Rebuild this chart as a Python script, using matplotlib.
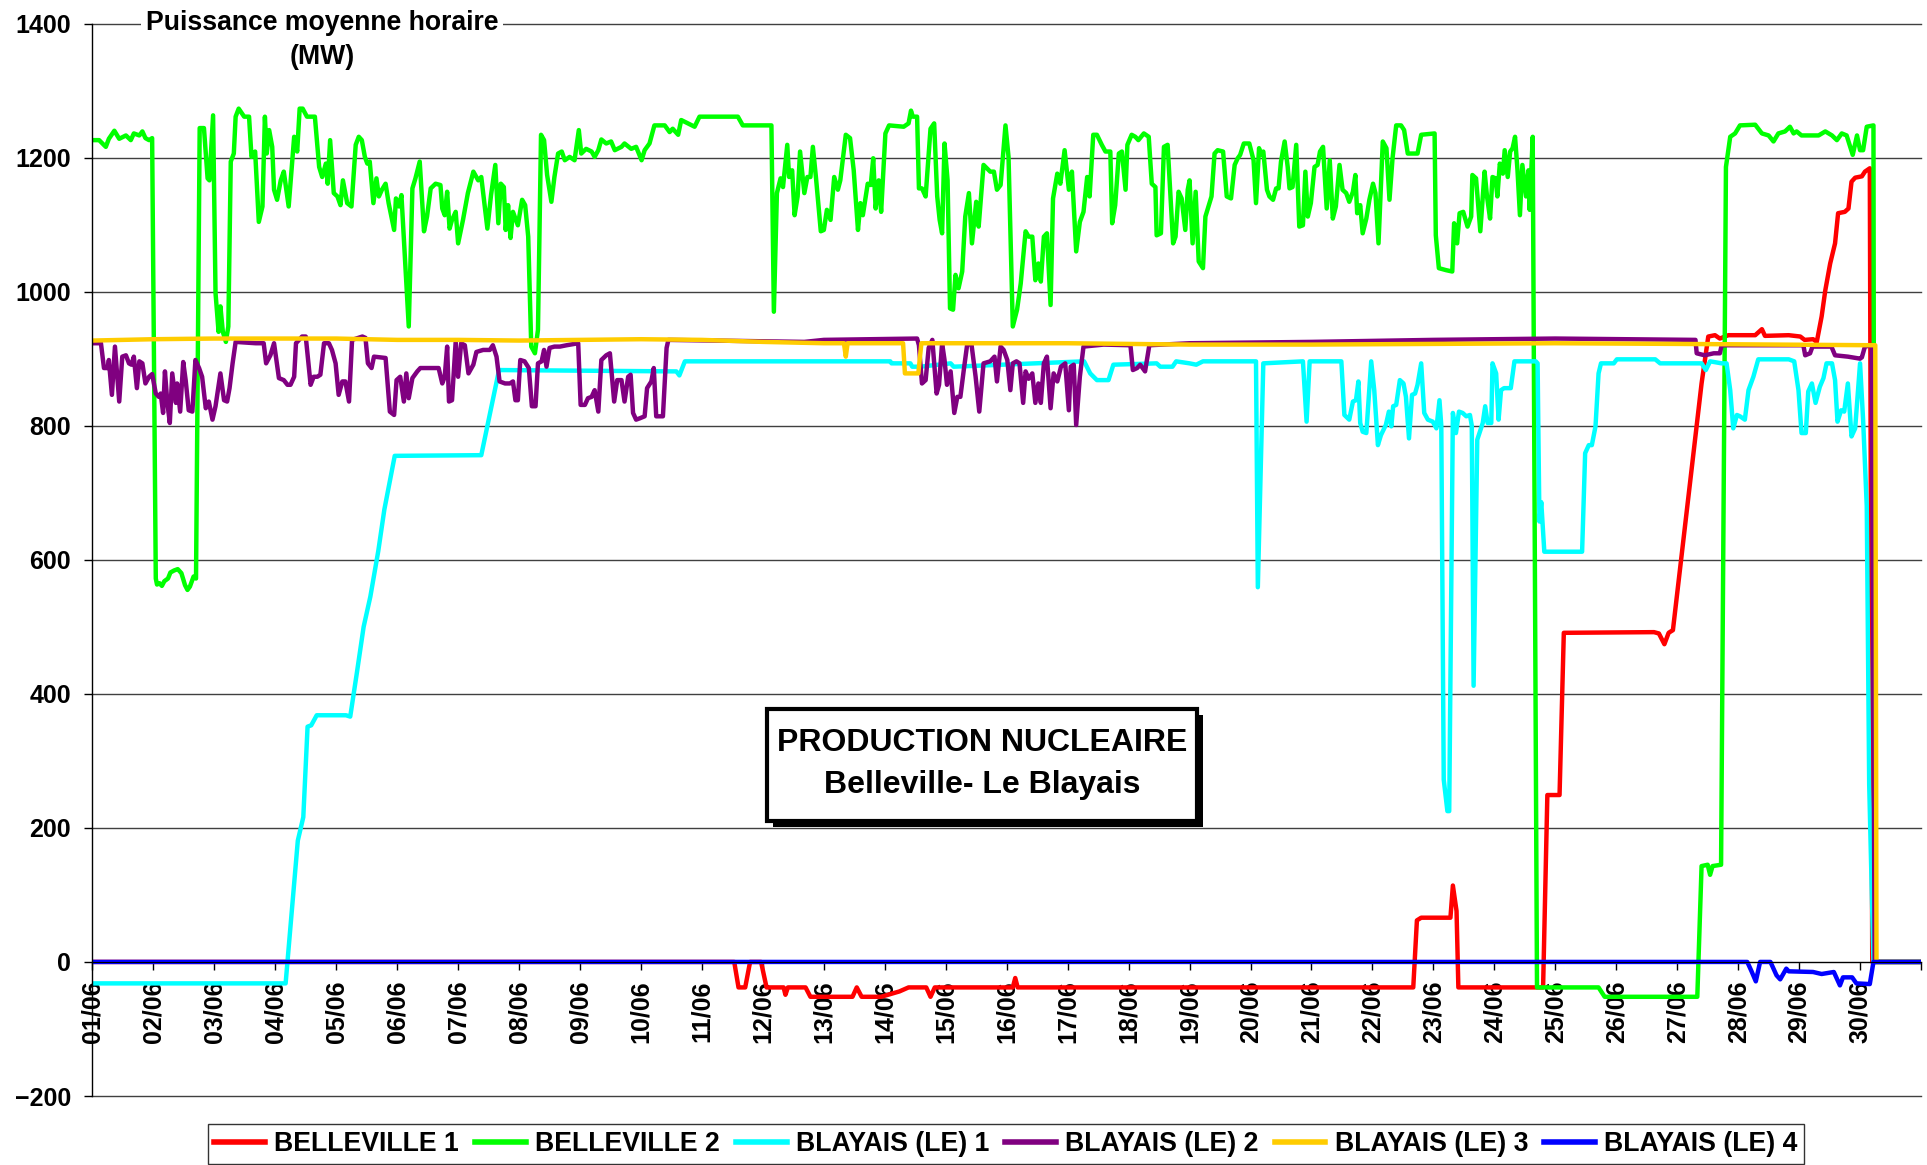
import matplotlib
matplotlib.use('Agg')
import matplotlib.pyplot as plt
from matplotlib.patches import Rectangle

plt.rcParams['font.family'] = ['Liberation Sans', 'DejaVu Sans']
plt.rcParams['font.weight'] = 'bold'

# jours (0 = 01/06 00h) et puissance moyenne horaire (MW)
day_labels = ['%02d/06' % (d + 1) for d in range(30)]

bel1_t = [0, 10.53, 10.60, 10.71, 10.79, 10.97, 11.06, 11.34, 11.37, 11.41, 11.70, 11.78,
          12.47, 12.54, 12.62, 12.94, 13.09, 13.24, 13.39, 13.68, 13.75, 13.82, 15.10, 15.14,
          15.18, 21.67, 21.73, 21.80, 22.28, 22.32, 22.38, 22.41, 23.80, 23.87, 24.07, 24.14,
          25.62, 25.70, 25.79, 25.86, 25.93, 26.16, 26.40, 26.51, 26.62, 26.70, 26.84, 27.28,
          27.39, 27.44, 27.83, 28.02, 28.09, 28.23, 28.29, 28.37, 28.43, 28.51, 28.59, 28.64,
          28.75, 28.81, 28.86, 28.92, 29.03, 29.08, 29.16, 29.20, 30]
bel1_v = [0, 0, -38, -38, 0, 0, -38, -38, -49, -38, -38, -52,
          -52, -38, -52, -52, -48, -44, -38, -38, -52, -38, -38, -24,
          -38, -38, 62, 66, 66, 114, 76, -38, -38, 249, 249, 491,
          492, 490, 474, 491, 495, 675, 863, 933, 935, 930, 935, 935,
          944, 934, 935, 933, 928, 929, 925, 963, 1002, 1042, 1072, 1117,
          1119, 1124, 1164, 1170, 1172, 1179, 1184, 0, 0]

bel2_t = [0.00, 0.11, 0.22, 0.27, 0.36, 0.44, 0.55, 0.63, 0.68, 0.77, 0.82, 0.87, 0.93, 0.98,
          1.04, 1.06, 1.10, 1.14, 1.18, 1.24, 1.28, 1.34, 1.40, 1.46, 1.52, 1.56, 1.60, 1.66, 1.70,
          1.76, 1.83, 1.89, 1.92, 1.98, 2.02, 2.07, 2.10, 2.14, 2.19, 2.23, 2.27, 2.32, 2.35, 2.40,
          2.49, 2.57, 2.61, 2.67, 2.73, 2.79, 2.83, 2.86, 2.90, 2.95, 2.98, 3.03, 3.09, 3.14, 3.22,
          3.31, 3.36, 3.40, 3.45, 3.52, 3.65, 3.72, 3.77, 3.83, 3.86, 3.90, 3.96, 4.02, 4.07, 4.11,
          4.18, 4.25, 4.32, 4.37, 4.42, 4.47, 4.51, 4.55, 4.61, 4.66, 4.70, 4.75, 4.81, 4.86, 4.95,
          4.98, 5.03, 5.07, 5.19, 5.25, 5.30, 5.37, 5.44, 5.49, 5.55, 5.63, 5.71, 5.74, 5.78, 5.82,
          5.86, 5.90, 5.96,
          6.00, 6.08, 6.16, 6.25, 6.33, 6.38, 6.48, 6.54, 6.61, 6.66, 6.70, 6.75, 6.78, 6.82, 6.86,
          6.90, 6.98, 7.05, 7.10, 7.15, 7.20, 7.26, 7.31, 7.36, 7.41, 7.46, 7.53, 7.58, 7.64, 7.70,
          7.75, 7.83, 7.91, 7.98, 8.02, 8.10, 8.19, 8.24, 8.30, 8.35, 8.43, 8.51, 8.57, 8.68, 8.73,
          8.84, 8.92, 9.01, 9.06, 9.14, 9.22, 9.39, 9.47, 9.52, 9.61, 9.66, 9.77, 9.88, 9.96, 10.59,
          10.67, 11.14, 11.18, 11.23, 11.29, 11.33, 11.40, 11.43, 11.48, 11.52, 11.57, 11.61, 11.68,
          11.73, 11.78, 11.82, 11.87, 11.95,
          12.00, 12.05, 12.11, 12.17, 12.23, 12.27, 12.36, 12.43, 12.49, 12.56, 12.60, 12.64, 12.72,
          12.77, 12.81, 12.85, 12.90, 12.94, 13.01, 13.07, 13.31, 13.39, 13.43, 13.46, 13.53, 13.56,
          13.61, 13.67, 13.75, 13.81, 13.86, 13.90, 13.94, 13.98, 14.03, 14.07, 14.12, 14.16, 14.21,
          14.27, 14.32, 14.38, 14.43, 14.50, 14.54, 14.62, 14.73, 14.79, 14.84, 14.90, 14.98, 15.03,
          15.10, 15.17, 15.23, 15.31, 15.36, 15.42, 15.47, 15.52, 15.56, 15.61, 15.66, 15.72, 15.76,
          15.83, 15.88, 15.95, 16.02, 16.07, 16.14, 16.20, 16.26, 16.32, 16.36, 16.42, 16.48, 16.56,
          16.62, 16.70, 16.73, 16.78, 16.84, 16.89, 16.95, 16.98, 17.05, 17.11, 17.16, 17.25, 17.33,
          17.38, 17.44, 17.46, 17.53, 17.58, 17.64, 17.73, 17.77, 17.82, 17.87, 17.93, 17.97,
          18.00, 18.05, 18.10, 18.15, 18.22, 18.26, 18.36, 18.41, 18.46, 18.55, 18.61, 18.68, 18.74,
          18.79, 18.83, 18.89, 18.98, 19.05, 19.09, 19.14, 19.17, 19.21, 19.27, 19.31, 19.37, 19.42,
          19.46, 19.50, 19.56, 19.61, 19.64, 19.69, 19.75, 19.80, 19.86, 19.90, 19.94, 19.99, 20.05,
          20.10, 20.14, 20.19, 20.25, 20.30, 20.35, 20.40, 20.46, 20.51, 20.57, 20.62, 20.68, 20.72,
          20.75, 20.80, 20.84, 20.90, 20.95, 21.01, 21.05, 21.10, 21.17, 21.23, 21.28, 21.33, 21.39,
          21.47, 21.52, 21.58, 21.74, 21.80, 22.02, 22.04, 22.09, 22.21, 22.31, 22.34, 22.39, 22.43,
          22.49, 22.56, 22.62, 22.64, 22.70, 22.77, 22.84, 22.88, 22.93, 22.97, 23.02, 23.05, 23.09,
          23.14, 23.17, 23.22, 23.26, 23.30, 23.34, 23.38, 23.42, 23.46, 23.52, 23.56, 23.58, 23.63,
          23.70, 24.71, 24.81, 26.33, 26.40, 26.50, 26.54, 26.58, 26.72, 26.80, 26.87, 26.95, 27.03,
          27.28, 27.39, 27.50, 27.58, 27.66, 27.77, 27.85, 27.91, 27.96, 28.04, 28.32, 28.43, 28.54,
          28.62, 28.70, 28.78, 28.88, 28.95, 29.00, 29.05, 29.11, 29.22, 29.24, 30]
bel2_v = [1226, 1226, 1216, 1228, 1240, 1228, 1233, 1226, 1236, 1233, 1239, 1229, 1226, 1229,
          572, 563, 565, 561, 568, 572, 581, 584, 586, 580, 562, 555, 560, 575, 572,
          1244, 1244, 1169, 1166, 1263, 998, 940, 978, 940, 925, 948, 1194, 1206, 1261, 1273,
          1261, 1261, 1201, 1209, 1104, 1127, 1261, 1206, 1241, 1216, 1152, 1137, 1166, 1179, 1127,
          1231, 1209, 1273, 1273, 1261, 1261, 1186, 1171, 1191, 1161, 1226, 1147, 1142, 1129, 1166,
          1132, 1127, 1219, 1231, 1226, 1201, 1191, 1194, 1132, 1169, 1142, 1152, 1161, 1132, 1092,
          1139, 1127, 1144, 948, 1154, 1169, 1194, 1090, 1112, 1154, 1161, 1159, 1124, 1114, 1149,
          1094, 1107, 1119,
          1072, 1107, 1147, 1179, 1166, 1171, 1094, 1144, 1189, 1102, 1161, 1156, 1092, 1129, 1080,
          1119, 1099, 1137, 1129, 1082, 918, 908, 943, 1234, 1226, 1174, 1134, 1171, 1206, 1209,
          1196, 1201, 1196, 1241, 1206, 1213, 1209, 1201, 1211, 1227, 1221, 1224, 1211, 1216, 1221,
          1213, 1216, 1196, 1211, 1221, 1248, 1248, 1238, 1243, 1234, 1256, 1251, 1246, 1261, 1261,
          1248, 1248, 970, 1147, 1169, 1156, 1219, 1171, 1181, 1114, 1142, 1209, 1147,
          1171, 1171, 1216, 1171, 1090,
          1092, 1122, 1107, 1171, 1152, 1166, 1234, 1229, 1181, 1092, 1132, 1114, 1161,
          1159, 1199, 1124, 1166, 1119, 1236, 1248, 1246, 1251, 1270, 1261, 1261, 1154,
          1154, 1142, 1243, 1251, 1142, 1107, 1087, 1221, 1166, 975, 973, 1025, 1005,
          1030, 1112, 1147, 1072, 1134, 1097, 1189, 1179, 1179, 1152, 1159, 1248, 1201,
          948, 973, 1012, 1090, 1082, 1082, 1017, 1042, 1015, 1082, 1087, 980, 1139,
          1176, 1161, 1211, 1152, 1179, 1060, 1104, 1119, 1171, 1142, 1234, 1234, 1219,
          1209, 1209, 1102, 1129, 1206, 1209, 1152, 1219, 1234, 1231, 1226, 1236, 1231,
          1161, 1156, 1084, 1087, 1216, 1219, 1072, 1082, 1149, 1139, 1092, 1152,
          1166, 1072, 1149, 1045, 1035, 1112, 1142, 1206, 1211, 1209, 1142, 1139, 1189,
          1199, 1204, 1221, 1221, 1196, 1132, 1214, 1204, 1209, 1152, 1142, 1137, 1154,
          1154, 1194, 1224, 1186, 1154, 1156, 1219, 1097, 1099, 1179, 1112, 1132, 1186,
          1189, 1209, 1216, 1124, 1196, 1109, 1127, 1189, 1152, 1147, 1134, 1149, 1174,
          1117, 1129, 1087, 1109, 1137, 1161, 1147, 1072, 1224, 1214, 1137, 1199, 1248,
          1248, 1241, 1206, 1206, 1234, 1236, 1084, 1035, 1032, 1030, 1102, 1072, 1117,
          1119, 1097, 1112, 1174, 1169, 1090, 1179, 1142, 1109, 1171, 1169, 1142, 1191,
          1176, 1211, 1171, 1209, 1214, 1231, 1181, 1114, 1189, 1142, 1181, 1122, 1231,
          -38, -38, -52, -52, 143, 145, 130, 143, 145, 1186, 1231, 1236, 1248,
          1249, 1236, 1233, 1224, 1236, 1239, 1246, 1236, 1239, 1233, 1233, 1239, 1233,
          1226, 1236, 1233, 1204, 1233, 1211, 1211, 1246, 1248, 0, 0]

bla1_t = [0, 3.17, 3.37, 3.46, 3.53, 3.59, 3.68, 4.16, 4.23, 4.34, 4.45, 4.56, 4.69, 4.79, 4.96,
          6.38, 6.66, 6.68, 9.58, 9.63, 9.72, 13.09, 13.11, 13.42, 13.45, 13.58, 14.08, 14.13,
          16.27, 16.37, 16.48, 16.67, 16.75, 17.46, 17.52, 17.72, 17.78, 18.00, 18.11, 18.22,
          19.09, 19.12, 19.21, 19.86, 19.92, 19.97, 20.49, 20.54, 20.62, 20.68, 20.73, 20.77,
          20.80, 20.84, 20.90, 20.98, 21.03, 21.09, 21.14, 21.22, 21.27, 21.31, 21.34, 21.39,
          21.45, 21.51, 21.55, 21.60, 21.65, 21.70, 21.74, 21.80, 21.85, 21.91, 21.99, 22.05,
          22.10, 22.13, 22.17, 22.23, 22.26, 22.32, 22.37, 22.42, 22.48, 22.54, 22.60, 22.63,
          22.66, 22.72, 22.81, 22.85, 22.89, 22.95, 22.97, 23.03, 23.07, 23.11, 23.16, 23.27,
          23.33, 23.68, 23.71, 23.74, 23.77, 23.82, 24.44, 24.49, 24.55, 24.60, 24.66, 24.71,
          24.75, 24.96, 25.01, 25.64, 25.72, 26.40, 26.47, 26.54, 26.73, 26.81, 26.87, 26.92,
          26.98, 27.03, 27.11, 27.17, 27.25, 27.33, 27.83, 27.92, 27.99, 28.04, 28.11, 28.15,
          28.21, 28.27, 28.34, 28.40, 28.45, 28.54, 28.59, 28.63, 28.69, 28.74, 28.80, 28.86,
          28.92, 28.97, 29.00, 29.05, 29.11, 29.15, 29.22, 30]
bla1_v = [-32, -32, 181, 216, 351, 353, 368, 368, 366, 432, 500, 545, 613, 675, 755,
          756, 878, 883, 881, 875, 896, 896, 893, 893, 888, 888, 893, 888,
          896, 878, 868, 868, 891, 893, 888, 888, 896, 893, 891, 896,
          896, 559, 893, 896, 806, 896, 896, 816, 809, 836, 838, 866,
          804, 791, 789, 896, 853, 771, 786, 801, 821, 799, 829, 831,
          868, 863, 843, 781, 846, 848, 861, 893, 819, 809, 806, 796,
          838, 800, 272, 225, 225, 819, 789, 821, 819, 814, 816, 800,
          412, 779, 804, 829, 804, 804, 893, 878, 809, 853, 856, 856,
          896, 896, 893, 657, 686, 612, 612, 759, 771, 771, 799, 878,
          893, 893, 899, 899, 893, 893, 883, 896, 893, 893, 853, 796,
          816, 814, 809, 853, 873, 899, 899, 896, 853, 789, 789, 851,
          863, 834, 858, 871, 893, 893, 868, 806, 823, 821, 863, 784,
          796, 858, 893, 809, 680, 265, 0, 0]

bla2_t = [0.00, 0.14, 0.19, 0.25, 0.27, 0.32, 0.37, 0.44, 0.49, 0.55, 0.60, 0.64, 0.68, 0.73,
          0.77, 0.82, 0.87, 0.93, 0.98, 1.04, 1.09, 1.12, 1.16, 1.19, 1.23, 1.27, 1.31, 1.37, 1.39,
          1.44, 1.49, 1.53, 1.58, 1.64, 1.69, 1.75, 1.80, 1.86, 1.91, 1.97, 2.02, 2.10, 2.16, 2.21,
          2.25, 2.30, 2.35, 2.68, 2.81, 2.85, 2.92, 2.98, 3.06, 3.14, 3.20, 3.25, 3.31, 3.34, 3.44,
          3.50, 3.58, 3.63, 3.69, 3.74, 3.80, 3.88, 3.93, 3.99, 4.04, 4.10, 4.15, 4.21, 4.26, 4.43,
          4.48, 4.52, 4.58, 4.62, 4.81, 4.88, 4.95, 4.99, 5.05, 5.11, 5.15, 5.19, 5.25, 5.33, 5.38,
          5.68, 5.74, 5.78, 5.82, 5.85, 5.90, 5.96,
          6.00, 6.05, 6.11, 6.17, 6.25, 6.30, 6.41, 6.52, 6.57, 6.63, 6.68, 6.77, 6.85, 6.90, 6.94,
          6.98, 7.02, 7.09, 7.16, 7.21, 7.27, 7.31, 7.37, 7.41, 7.45, 7.50, 7.58, 7.67, 7.78, 7.97,
          8.01, 8.08, 8.13, 8.19, 8.24, 8.30, 8.35, 8.43, 8.49, 8.56, 8.61, 8.68, 8.73, 8.79, 8.83,
          8.87, 8.92, 8.98, 9.06, 9.10, 9.17, 9.21, 9.25, 9.36, 9.42, 9.45, 11.68, 12.00,
          13.53, 13.56, 13.61, 13.67, 13.72, 13.78, 13.85, 13.89, 13.94, 13.98, 14.02, 14.08, 14.14,
          14.19, 14.24, 14.30, 14.35, 14.42, 14.49, 14.55, 14.62, 14.73, 14.80, 14.84, 14.90, 14.95,
          15.01, 15.06, 15.10, 15.16, 15.21, 15.27, 15.31, 15.36, 15.42, 15.47, 15.52, 15.56, 15.61,
          15.66, 15.72, 15.77, 15.83, 15.89, 15.96, 16.02, 16.05, 16.10, 16.14, 16.20, 16.26, 16.59,
          17.03, 17.07, 17.14, 17.19, 17.27, 17.34, 18.00, 20.00, 22.00, 24.00, 26.30, 26.32, 26.45,
          26.60, 26.70, 26.73, 28.07, 28.10, 28.18, 28.22, 28.53, 28.59, 28.80, 29.00, 29.03, 29.08,
          29.19, 29.24, 30]
bla2_v = [923, 923, 886, 886, 898, 846, 918, 836, 903, 905, 893, 891, 903, 856,
          896, 893, 863, 873, 877, 848, 843, 848, 819, 881, 834, 804, 878, 834, 863,
          821, 895, 868, 823, 821, 898, 886, 873, 826, 836, 809, 829, 878, 838, 836,
          856, 893, 925, 923, 923, 893, 905, 923, 871, 868, 861, 861, 873, 923, 933,
          933, 861, 873, 873, 876, 923, 923, 913, 893, 846, 866, 866, 836, 928, 933,
          931, 893, 886, 903, 901, 821, 816, 868, 873, 836, 878, 841, 871, 881, 886,
          886, 863, 873, 918, 836, 838, 925,
          873, 923, 920, 878, 891, 910, 913, 913, 920, 903, 866, 863, 863, 866, 838,
          838, 898, 896, 886, 829, 829, 893, 896, 913, 888, 916, 918, 918, 920, 923,
          831, 831, 841, 843, 853, 821, 898, 905, 908, 836, 868, 868, 836, 873, 876,
          819, 809, 811, 814, 856, 866, 886, 814, 814, 916, 928, 925, 928,
          930, 920, 863, 868, 916, 928, 848, 861, 923, 898, 861, 881, 819,
          843, 843, 886, 920, 923, 873, 821, 893, 896, 903, 866, 918, 913,
          898, 853, 893, 896, 893, 834, 881, 870, 878, 834, 863, 834, 893,
          903, 826, 878, 866, 888, 893, 823, 888, 891, 801, 873, 918, 921,
          920, 883, 886, 891, 881, 920, 923, 925, 928, 930, 928, 908, 905,
          908, 908, 920, 920, 905, 908, 918, 918, 905, 903, 900, 902, 918,
          920, 0, 0]

bla3_t = [0, 1, 2, 3, 4, 5, 6, 7, 8, 9, 10, 11, 12, 12.33, 12.36, 12.39, 13.30, 13.33, 13.55,
          13.60, 16, 18, 20, 22, 24, 26, 29.25, 29.27, 30]
bla3_v = [927, 929, 930, 930, 930, 928, 928, 927, 928, 929, 928, 925, 923, 923, 903, 923, 923,
          878, 878, 923, 923, 921, 921, 922, 923, 922, 920, 0, 0]

bla4_t = [0, 27.15, 27.22, 27.29, 27.36, 27.53, 27.63, 27.69, 27.79, 27.83, 28.23, 28.37, 28.57,
          28.67, 28.72, 28.87, 28.94, 29.16, 29.22, 30]
bla4_v = [0, 0, -14, -29, 0, 0, -20, -26, -10, -14, -15, -18, -15, -35, -23, -23, -32, -33, 0, 0]

series = [
    ('BELLEVILLE 1', bel1_t, bel1_v, '#FF0000'),
    ('BELLEVILLE 2', bel2_t, bel2_v, '#00FF00'),
    ('BLAYAIS (LE) 1', bla1_t, bla1_v, '#00FFFF'),
    ('BLAYAIS (LE) 2', bla2_t, bla2_v, '#800080'),
    ('BLAYAIS (LE) 3', bla3_t, bla3_v, '#FFCC00'),
    ('BLAYAIS (LE) 4', bla4_t, bla4_v, '#0000FF'),
]

W, H = 1927, 1165
fig = plt.figure(figsize=(W / 100, H / 100), dpi=100)
ax = fig.add_axes([92.4 / W, 1 - 1096 / H, (1921 - 92.4) / W, (1096 - 23.5) / H])

for name, t, v, c in series:
    ax.plot(t, v, color=c, lw=3.2, label=name)

ax.set_xlim(0, 30)
ax.set_ylim(-200, 1400)
ax.set_yticks(range(-200, 1401, 200))
ax.set_xticks(range(31))
ax.set_xticklabels(day_labels + [''])
ax.grid(axis='y', color='#404040', lw=1.0)
for gl in ax.get_ygridlines():
    gl.set_clip_on(False)
ax.set_axisbelow(True)
for s in ('top', 'right'):
    ax.spines[s].set_visible(False)
ax.spines['bottom'].set_position(('data', 0))
ax.spines['left'].set_linewidth(1.0)
ax.tick_params(axis='y', direction='out', length=5.5, width=1, pad=10, labelsize=18)
ax.tick_params(axis='x', direction='out', length=5.5, width=1, pad=8, labelsize=18,
               labelrotation=90)

# titre de l'axe
fig.text(322 / W, 1 - 23.5 / H, 'Puissance moyenne horaire', ha='center', va='center',
         fontsize=19.2, fontweight='bold',
         bbox=dict(facecolor='white', edgecolor='none', pad=3))
fig.text(322 / W, 1 - 57.5 / H, '(MW)', ha='center', va='center', fontsize=19.2,
         fontweight='bold')

# cartouche avec ombre
bx0, bx1, by0, by1 = 767, 1197, 709, 821
fig.add_artist(Rectangle(((bx0 + 6) / W, 1 - (by1 + 6) / H), (bx1 - bx0) / W, (by1 - by0) / H,
                         transform=fig.transFigure, facecolor='black', edgecolor='black', lw=0))
fig.add_artist(Rectangle((bx0 / W, 1 - by1 / H), (bx1 - bx0) / W, (by1 - by0) / H,
                         transform=fig.transFigure, facecolor='white', edgecolor='black', lw=3))
fig.text(982 / W, 1 - 743 / H, 'PRODUCTION NUCLEAIRE', ha='center', va='center',
         fontsize=23, fontweight='bold')
fig.text(982 / W, 1 - 785 / H, 'Belleville- Le Blayais', ha='center', va='center',
         fontsize=23, fontweight='bold')

leg = fig.legend(loc='center', bbox_to_anchor=(1006 / W, 1 - 1144 / H), ncol=6,
                 fontsize=19.2, frameon=True, fancybox=False, edgecolor='black',
                 handlelength=1.9, handletextpad=0.35, columnspacing=0.6, borderpad=0.25)
leg.get_frame().set_linewidth(1.0)
for line in leg.get_lines():
    line.set_linewidth(4)

fig.savefig('out.png', dpi=100)
